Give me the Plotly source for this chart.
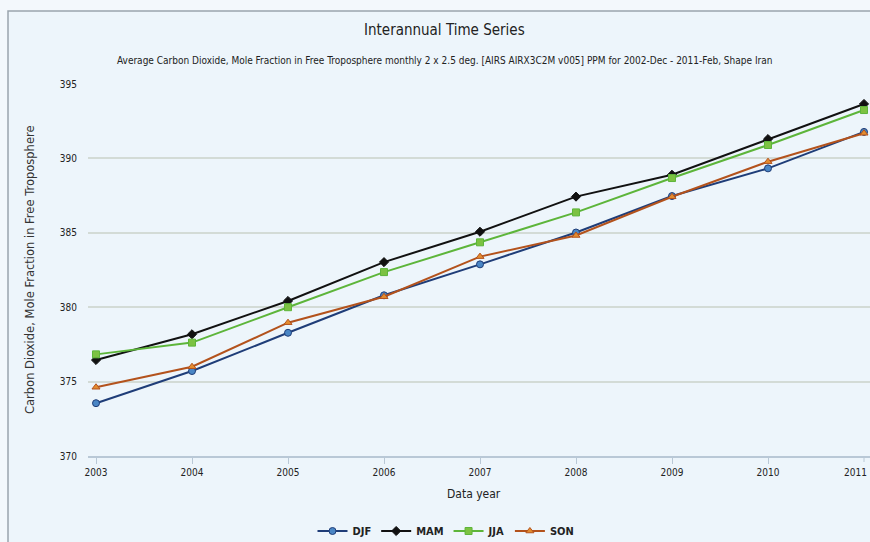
import plotly.graph_objects as go

years = [2003, 2004, 2005, 2006, 2007, 2008, 2009, 2010, 2011]
djf = [373.55, 375.71, 378.28, 380.80, 382.88, 385.02, 387.47, 389.33, 391.78]
mam = [376.45, 378.18, 380.42, 383.03, 385.07, 387.43, 388.90, 391.30, 393.66]
jja = [376.83, 377.62, 380.00, 382.36, 384.36, 386.37, 388.68, 390.90, 393.25]
son = [374.62, 376.00, 378.96, 380.70, 383.40, 384.82, 387.42, 389.78, 391.69]
y_ticks = [370, 375, 380, 385, 390, 395]

series = [
    ("DJF", djf, "#1f3d78", "#4a86c5", "circle", 7),
    ("MAM", mam, "#111111", "#111111", "diamond", 7),
    ("JJA", jja, "#5db53a", "#7cc242", "square", 7),
    ("SON", son, "#b3521c", "#e38c2f", "triangle-up", 7),
]

NARROW = "Liberation Sans Narrow, DejaVu Sans Condensed, sans-serif"

fig = go.Figure()
for name, vals, lc, mc, sym, ms in series:
    fig.add_trace(go.Scatter(
        x=years, y=vals, name=name, mode="lines+markers",
        line=dict(color=lc, width=2),
        marker=dict(color=mc, symbol=sym, size=ms, line=dict(color=lc, width=1)),
        cliponaxis=False,
    ))

L, T, B = 88, 84, 86
W, H = 870, 542
pw = W - L
ph = H - T - B

def px_x(p):
    return (p - L) / pw

def px_y(p):
    return (H - B - p) / ph

fig.add_shape(type="rect", xref="paper", yref="paper", layer="below",
              x0=px_x(8), x1=px_x(900), y0=px_y(600), y1=px_y(11),
              line=dict(color="#9aa4ad", width=1.5), fillcolor="#edf5fb")

def note(text, x, y, size, family=NARROW, angle=0, color="#222222"):
    fig.add_annotation(text=text, xref="paper", yref="paper",
                       x=px_x(x), y=px_y(y), xanchor="center", yanchor="middle",
                       showarrow=False, textangle=angle,
                       font=dict(family=family, size=size, color=color))

note("Interannual Time Series", 444, 30, 15)
note("Average Carbon Dioxide, Mole Fraction in Free Troposphere monthly 2 x 2.5 deg. [AIRS AIRX3C2M v005] PPM for 2002-Dec - 2011-Feb, Shape Iran",
     444, 60, 10)
note("Carbon Dioxide, Mole Fraction in Free Troposphere", 30, 270, 11.5,
     family="DejaVu Sans, sans-serif", angle=-90, color="#333333")
note("Data year", 474, 494, 12)

# last tick label, kept inside the page edge
fig.add_annotation(text=str(years[-1]), xref="paper", yref="paper", x=px_x(869), y=px_y(472),
                   xanchor="right", yanchor="middle", showarrow=False,
                   font=dict(family=NARROW, size=10, color="#222222"))

fig.update_layout(
    width=W, height=H,
    margin=dict(l=L, r=0, t=T, b=B, autoexpand=False),
    paper_bgcolor="#f3f8fc",
    plot_bgcolor="rgba(0,0,0,0)",
    showlegend=True,
    legend=dict(orientation="h", xref="container", yref="container",
                x=446 / W, y=1 - 531 / H, xanchor="center", yanchor="middle",
                font=dict(family=NARROW, size=11, color="#222222", weight="bold"),
                bgcolor="rgba(0,0,0,0)", itemwidth=30, tracegroupgap=0),
    xaxis=dict(
        range=[2003 - 8 / 96, 2003 + (W - L - 8) / 96],
        tickvals=years[:-1], ticktext=[str(y) for y in years[:-1]],
        showgrid=False, zeroline=False,
        showline=True, linecolor="#b9c8d6", linewidth=2,
        ticks="outside", ticklen=6, tickcolor="#b9c8d6",
        tickfont=dict(family=NARROW, size=10, color="#222222"),
    ),
    yaxis=dict(
        range=[370, 395], tickvals=y_ticks,
        showgrid=True, gridcolor="#d3dbd6", gridwidth=1.5,
        zeroline=False, showline=False,
        ticklabelstandoff=10,
        tickfont=dict(family=NARROW, size=10, color="#222222"),
    ),
)

# tick mark for the final year (its label is the annotation above)
fig.add_shape(type="line", xref="x", yref="paper", x0=years[-1], x1=years[-1],
              y0=0, y1=px_y(462), line=dict(color="#b9c8d6", width=1))

fig.write_html("out.html", config={"displayModeBar": False},
               post_script="document.body.style.margin='0';")
